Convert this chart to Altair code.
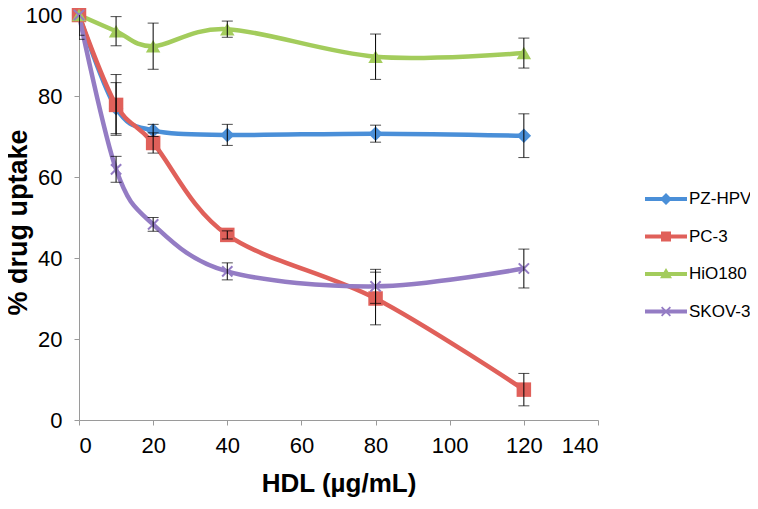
import altair as alt
import pandas as pd

# ---- data ----
series = ["PZ-HPV", "PC-3", "HiO180", "SKOV-3"]
hdl = [0, 10, 20, 40, 80, 120]

pz_hpv = [100, 77.0, 71.5, 70.4, 70.7, 70.2]
pz_hpv_err = [6.0, 6.3, 1.5, 2.6, 2.1, 5.4]

pc3 = [100, 77.8, 68.4, 45.7, 30.0, 7.5]
pc3_err = [0, 7.5, 2.5, 1.0, 6.5, 4.0]

hio180 = [100, 96.0, 92.3, 96.5, 89.7, 90.6]
hio180_err = [0, 3.6, 5.7, 2.0, 5.6, 3.7]

skov3 = [100, 61.9, 48.3, 36.7, 33.0, 37.4]
skov3_err = [5.0, 3.2, 1.7, 2.1, 4.2, 4.8]

x_ticks = [0, 20, 40, 60, 80, 100, 120, 140]
y_ticks = [0, 20, 40, 60, 80, 100]

colors = ["#4A8FD8", "#E0605A", "#A3CC5C", "#947CC4"]

# ---- build the long table ----
rows = []
for name, vals, errs in [("PZ-HPV", pz_hpv, pz_hpv_err), ("PC-3", pc3, pc3_err),
                         ("HiO180", hio180, hio180_err), ("SKOV-3", skov3, skov3_err)]:
    for xv, yv, ev in zip(hdl, vals, errs):
        rows.append({"series": name, "x": xv, "y": yv, "lo": yv - ev, "hi": yv + ev, "err": ev})
df = pd.DataFrame(rows)

# marker shapes for the plot
x_path = ("M0.608,-0.806L0.806,-0.608L0.198,0L0.806,0.608L0.608,0.806L0,0.198"
          "L-0.608,0.806L-0.806,0.608L-0.198,0L-0.806,-0.608L-0.608,-0.806L0,-0.198Z")
plot_shapes = ["diamond", "square", "triangle-up", x_path]

# legend symbols: line segment + marker
bar = "M-2.1,-0.2H2.1V0.2H-2.1Z"
legend_shapes = [
    bar + "M0,-0.6L0.6,0L0,0.6L-0.6,0Z",
    bar + "M-0.5,-0.5H0.5V0.5H-0.5Z",
    bar + "M0,-0.6L0.6,0.42L-0.6,0.42Z",
    bar + ("M0.377,-0.5L0.5,-0.377L0.123,0L0.5,0.377L0.377,0.5L0,0.123"
           "L-0.377,0.5L-0.5,0.377L-0.123,0L-0.5,-0.377L-0.377,-0.5L0,-0.123Z"),
]

color_scale = alt.Scale(domain=series, range=colors)

x_enc = alt.X("x:Q", scale=alt.Scale(domain=[0, 140], nice=False),
              axis=alt.Axis(values=x_ticks, title="HDL (µg/mL)", grid=False))
y_enc = alt.Y("y:Q", scale=alt.Scale(domain=[0, 100], nice=False),
              axis=alt.Axis(values=y_ticks, title="% drug uptake", grid=False,
                            titleX=-61, titleY=207, titleAngle=270, titleBaseline="middle",
                            titleAlign="center", titleFontSize=27))

base = alt.Chart(df)

lines = base.mark_line(interpolate="cardinal", strokeWidth=4.5).encode(
    x=x_enc, y=y_enc,
    color=alt.Color("series:N", scale=color_scale, legend=None),
    detail="series:N",
)

points = base.mark_point(filled=True, size=210, opacity=1, strokeWidth=0).encode(
    x="x:Q", y="y:Q",
    color=alt.Color("series:N", scale=color_scale, legend=None),
    shape=alt.Shape("series:N", scale=alt.Scale(domain=series, range=plot_shapes), legend=None),
)

err_base = base.transform_filter("datum.err > 0")
err_rule = err_base.mark_rule(color="black", strokeWidth=1, clip=True).encode(
    x="x:Q", y="lo:Q", y2="hi:Q")
err_lo = err_base.mark_tick(orient="horizontal", size=11, thickness=1, color="black", clip=True).encode(
    x="x:Q", y="lo:Q")
err_hi = err_base.mark_tick(orient="horizontal", size=11, thickness=1, color="black", clip=True).encode(
    x="x:Q", y="hi:Q")

main = alt.layer(lines, points, err_rule, err_lo, err_hi)

legend_opts = dict(title=None, orient="none", legendX=577, legendY=174,
                   symbolSize=400, symbolStrokeWidth=0, symbolOpacity=1,
                   labelOffset=13, rowPadding=19.5, padding=0,
                   labelFont="Liberation Sans", labelFontSize=17,
                   labelColor="black")

legend_layer = alt.Chart(df).transform_filter("datum.x < 0").mark_point(
    filled=True, opacity=1, strokeWidth=0).encode(
    color=alt.Color("series:N", scale=alt.Scale(domain=series, range=colors),
                    legend=alt.Legend(**legend_opts)),
    shape=alt.Shape("series:N", scale=alt.Scale(domain=series, range=legend_shapes),
                    legend=alt.Legend(**legend_opts)),
)

chart = alt.layer(main, legend_layer).resolve_scale(
    color="independent", shape="independent"
).properties(
    width=519, height=405,
    autosize="none",
    padding={"left": 71, "top": 7, "right": 152, "bottom": 81},
).configure_view(stroke=None).configure_axis(
    domainColor="#9a9a9a", tickColor="#9a9a9a", tickSize=5, domainWidth=1,
    labelFont="Liberation Sans", labelFontSize=22, labelColor="black",
    titleFont="Liberation Sans", titleFontSize=26, titleFontWeight="bold", titleColor="black",
).configure_axisX(labelPadding=10, titlePadding=14).configure_axisY(labelPadding=12)

chart.save("out.html", embed_options={"renderer": "svg", "actions": False})
